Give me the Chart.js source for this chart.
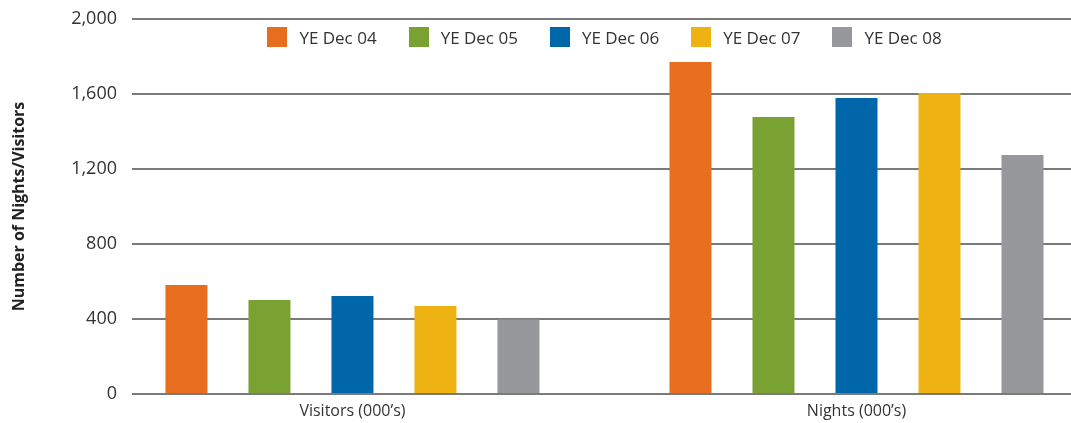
<!DOCTYPE html>
<html>
<head>
<meta charset="utf-8">
<script src="https://cdn.jsdelivr.net/npm/chart.js@4.4.1/dist/chart.umd.min.js"></script>
<style>
  html, body { margin: 0; padding: 0; background: #fff; }
  #wrap { position: relative; width: 1071px; height: 423px; }
  #legend {
    position: absolute; left: 135px; width: 939px; top: 27px; height: 20px;
    display: flex; justify-content: center; align-items: center; gap: 32px;
    font-family: "Open Sans", "Noto Sans", sans-serif; font-size: 17px; color: #333;
  }
  #legend .item { display: flex; align-items: center; white-space: nowrap; }
  #legend .box { width: 20px; height: 20px; margin-right: 12px; }
</style>
</head>
<body>
<div id="wrap">
  <canvas id="nightsChart" width="1071" height="423"></canvas>
  <div id="legend"></div>
</div>
<script>
// Visitors and nights by year ending December
const categories = ['Visitors (000\u2019s)', 'Nights (000\u2019s)'];
const seriesLabels = ['YE Dec 04', 'YE Dec 05', 'YE Dec 06', 'YE Dec 07', 'YE Dec 08'];
const ye04 = [581, 1771];
const ye05 = [501, 1477];
const ye06 = [523, 1579];
const ye07 = [469, 1605];
const ye08 = [398, 1275];
const yTicks = [0, 400, 800, 1200, 1600, 2000];

const seriesColors = ['#E86E1F', '#7AA233', '#0066AA', '#EEB313', '#97989B'];
const seriesData = [ye04, ye05, ye06, ye07, ye08];

const FONT = '"Open Sans", "Noto Sans", sans-serif';

// legend is plain html laid over the top of the plot
function buildLegend() {
    const el = document.getElementById('legend');
    seriesLabels.forEach((label, i) => {
        const item = document.createElement('div');
        item.className = 'item';
        const box = document.createElement('span');
        box.className = 'box';
        box.style.background = seriesColors[i];
        const txt = document.createElement('span');
        txt.textContent = label;
        item.appendChild(box);
        item.appendChild(txt);
        el.appendChild(item);
    });
}

function initChart() {
    const canvas = document.getElementById('nightsChart');
    return new Chart(canvas.getContext('2d'), {
        type: 'bar',
        data: {
            labels: categories,
            datasets: seriesLabels.map((label, i) => ({
                label: label,
                data: seriesData[i],
                backgroundColor: seriesColors[i],
                borderWidth: 0,
                categoryPercentage: 0.8234,
                barPercentage: 0.506
            }))
        },
        options: {
            responsive: false,
            animation: false,
            layout: { padding: { top: 19, right: 0, bottom: 0, left: 0 } },
            plugins: {
                legend: { display: false },
                tooltip: { enabled: false }
            },
            scales: {
                x: {
                    grid: { display: false, drawTicks: false },
                    border: { display: false },
                    ticks: {
                        padding: 8,
                        color: '#333',
                        font: { family: FONT, size: 16 }
                    },
                    afterFit(scale) { scale.height = 29; },
                    // groups are not evenly spaced across the plot width
                    afterBuildTicks(scale) {
                        scale._startValue = -0.4374;
                        scale._valueRange = 1.863;
                    }
                },
                y: {
                    min: 0,
                    max: 2000,
                    grid: { color: '#7a7a7a', lineWidth: 2, drawTicks: false },
                    border: { display: false },
                    afterBuildTicks(scale) {
                        scale.ticks = yTicks.map(v => ({ value: v }));
                    },
                    ticks: {
                        padding: 15,
                        color: '#333',
                        font: { family: FONT, size: 18 }
                    },
                    title: {
                        display: true,
                        text: 'Number of Nights/Visitors',
                        color: '#222',
                        padding: { top: 10, bottom: 0 },
                        font: { family: FONT, size: 16, weight: 'bold' }
                    },
                    afterFit(scale) {
                        scale.width = 132;
                        scale.paddingTop = 0;
                        scale.paddingBottom = 0;
                    }
                }
            }
        }
    });
}

buildLegend();
initChart();
</script>
</body>
</html>
